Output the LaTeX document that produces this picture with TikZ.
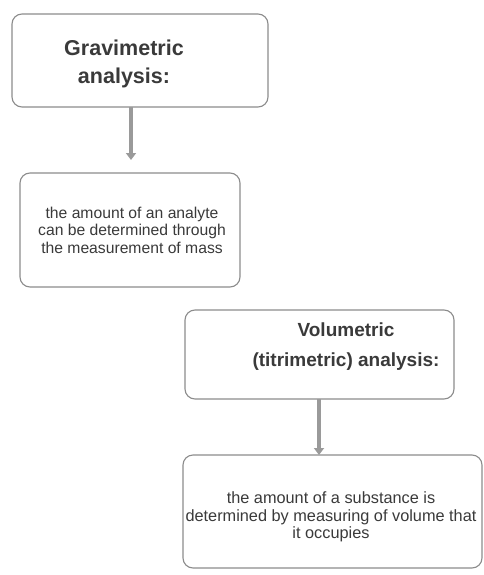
\documentclass[tikz,border=0pt]{standalone}
\usepackage{fontspec}
\setmainfont{Liberation Sans}
\usetikzlibrary{arrows.meta}
\definecolor{boxline}{HTML}{8C8C8C}
\definecolor{txt}{HTML}{3A3A3A}
\definecolor{arr}{HTML}{9A9A9A}
\tikzset{
  box/.style={draw=boxline, line width=1.1pt, rounded corners=10pt, text=txt},
  ttl/.style={font=\fontsize{21.5}{28}\selectfont\bfseries, text=txt, align=center},
  ttlb/.style={font=\fontsize{19}{30}\selectfont\bfseries, text=txt, align=center},
  body/.style={font=\fontsize{15.7}{17.5}\selectfont, text=txt, align=center},
  bodyb/.style={font=\fontsize{16.3}{17.5}\selectfont, text=txt, align=center},
  fat/.style={draw=arr, line width=4pt, -{Triangle[length=7pt,width=10pt]}},
}
\begin{document}
\begin{tikzpicture}[x=1pt,y=-1pt]
\useasboundingbox (0,0) rectangle (484,575);
\fill[white] (0,0) rectangle (484,575);
% boxes
\draw[box] (12,14) rectangle (268,107);
\draw[box] (20,173) rectangle (240,287);
\draw[box] (185,310) rectangle (454,399);
\draw[box] (183,455) rectangle (482,568);
% anchors for connectors
\coordinate (b1s) at (131,107);
\coordinate (b2n) at (131,160);
\coordinate (b3s) at (319,399);
\coordinate (b4n) at (319,455);
% texts
\node[ttl] (t1) at (124,64) {Gravimetric\\analysis:};
\node[body] (t2) at (132,230) {the amount of an analyte\\can be determined through\\the measurement of mass};
\node[ttlb] (t3) at (346,347) {Volumetric\\(titrimetric) analysis:};
\node[bodyb] (t4) at (331,517) {the amount of a substance is\\determined by measuring of volume that\\it occupies};
% arrows
\draw[fat] (b1s) -- (b2n);
\draw[fat] (b3s) -- (b4n);
\end{tikzpicture}
\end{document}
